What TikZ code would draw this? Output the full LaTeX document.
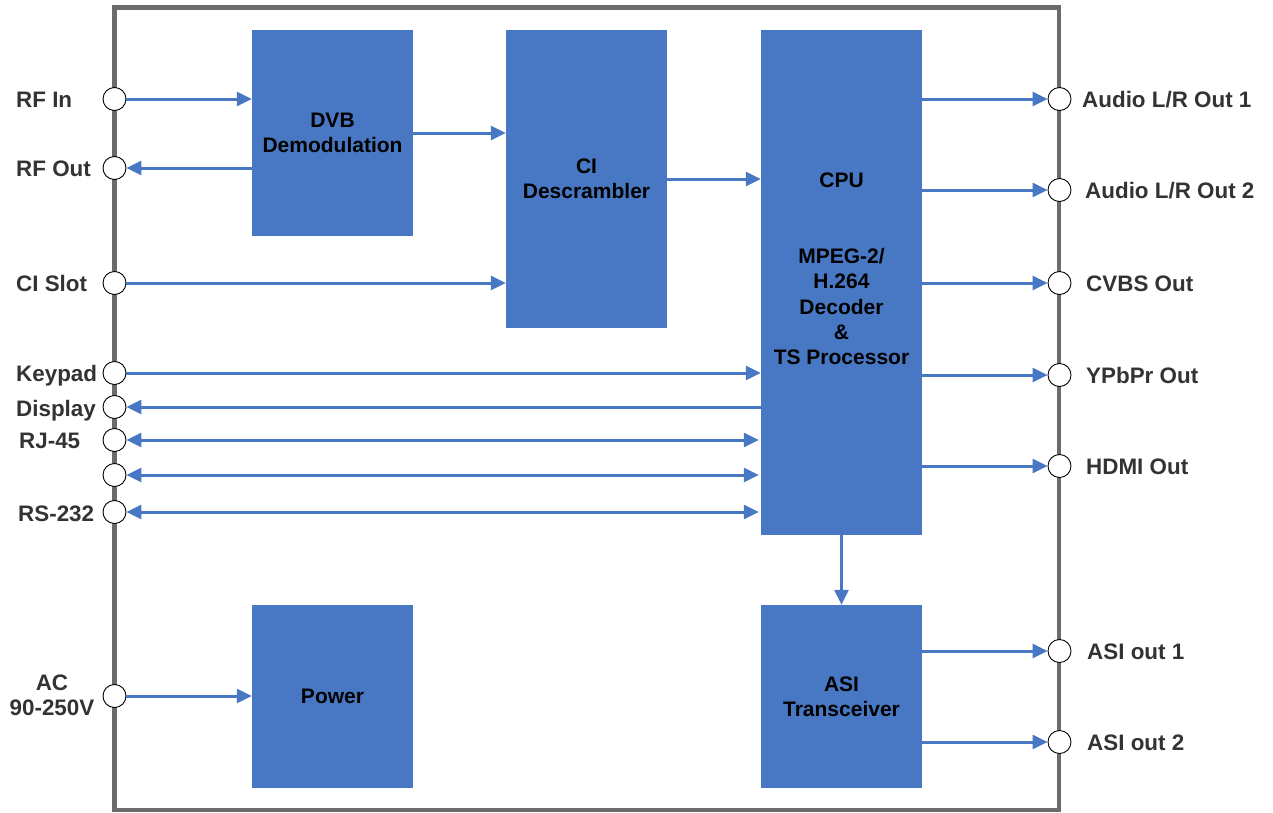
\documentclass[tikz,border=0pt]{standalone}
\usepackage{fontspec}
\setmainfont{Liberation Sans}
\usetikzlibrary{arrows.meta}
\definecolor{blk}{HTML}{4878C4}
\definecolor{frm}{HTML}{6B6B6B}
\definecolor{lbl}{HTML}{333333}
\begin{document}
\begin{tikzpicture}[x=1pt,y=-1pt,
  block/.style={fill=blk, draw=none, inner sep=0pt, minimum width=161pt,
    font=\bfseries\fontsize{21}{25.3}\selectfont, align=center, text=black},
  btext/.style={inner sep=0pt, font=\bfseries\fontsize{21}{25.3}\selectfont,
    align=center, text=black},
  port/.style={circle, draw=black, fill=white, line width=0.9pt,
    minimum size=23pt, inner sep=0pt},
  lab/.style={font=\bfseries\fontsize{22.4}{25}\selectfont, text=lbl,
    inner sep=0pt, text height=16pt, text depth=0pt},
  sig/.style={draw=blk, line width=3pt, -{Triangle[length=15pt,width=14pt]}},
  bisig/.style={draw=blk, line width=3pt,
    {Triangle[length=15pt,width=14pt]}-{Triangle[length=15pt,width=14pt]}}
]
\useasboundingbox (0,0) rectangle (1273,812);

% enclosure
\draw[frm, line width=4.5pt] (114.5,7.5) rectangle (1059,810);

% functional blocks
\node[block, minimum height=206pt] (dvb) at (332.5,133) {DVB\\Demodulation};
\node[block, minimum height=298pt] (ci)  at (586.5,179) {CI\\Descrambler};
\node[block, minimum height=505pt] (cpu) at (841.5,282.5) {};
\node[btext] (cputxt) at (841.5,269) {CPU\\[50.6pt]MPEG-2/\\H.264\\Decoder\\\&\\TS Processor};
\node[block, minimum height=183pt] (pow) at (332.5,696.5) {Power};
\node[block, minimum height=183pt] (asi) at (841.5,696.5) {ASI\\Transceiver};

% left ports
\node[port] (pRFin)  at (114.5,99)  {};
\node[port] (pRFout) at (114.5,168) {};
\node[port] (pCI)    at (114.5,283) {};
\node[port] (pKey)   at (114.5,373) {};
\node[port] (pDisp)  at (114.5,407) {};
\node[port] (pRJ)    at (114.5,440) {};
\node[port] (pX)     at (114.5,475) {};
\node[port] (pRS)    at (114.5,512) {};
\node[port] (pAC)    at (114.5,696) {};

% right ports
\node[port] (pA1)   at (1059.5,99)  {};
\node[port] (pA2)   at (1059.5,190) {};
\node[port] (pCVBS) at (1059.5,283) {};
\node[port] (pYPb)  at (1059.5,375) {};
\node[port] (pHDMI) at (1059.5,466) {};
\node[port] (pS1)   at (1059.5,651) {};
\node[port] (pS2)   at (1059.5,742) {};

% left labels
\node[lab, anchor=west] (lRFin)  at (16,99)  {RF In};
\node[lab, anchor=west] (lRFout) at (16,168) {RF Out};
\node[lab, anchor=west] (lCI)    at (16,283) {CI Slot};
\node[lab, anchor=west] (lKey)   at (16,373) {Keypad};
\node[lab, anchor=west] (lDisp)  at (16,408) {Display};
\node[lab, anchor=west] (lRJ)    at (19,440) {RJ-45};
\node[lab, anchor=west] (lRS)    at (18,513) {RS-232};
\node[font=\bfseries\fontsize{22.4}{25}\selectfont, text=lbl, inner sep=0pt,
  align=center] (lAC) at (52,695.5) {AC\\90-250V};

% right labels
\node[lab, anchor=west] (lA1)   at (1082,99)  {Audio L/R Out 1};
\node[lab, anchor=west] (lA2)   at (1085,190) {Audio L/R Out 2};
\node[lab, anchor=west] (lCVBS) at (1086,283) {CVBS Out};
\node[lab, anchor=west] (lYPb)  at (1086,375) {YPbPr Out};
\node[lab, anchor=west] (lHDMI) at (1086,466) {HDMI Out};
\node[lab, anchor=west] (lS1)   at (1087,651) {ASI out 1};
\node[lab, anchor=west] (lS2)   at (1087,742) {ASI out 2};

% signal paths
\draw[sig] (pRFin) -- (pRFin -| dvb.west);
\draw[sig] (pRFout -| dvb.west) -- (pRFout);
\draw[sig] (dvb.east) -- (dvb.east -| ci.west);
\draw[sig] (ci.east) -- (ci.east -| cpu.west);
\draw[sig] (pCI) -- (pCI -| ci.west);
\draw[sig] (pKey) -- (pKey -| cpu.west);
\draw[sig] (pDisp -| cpu.west) -- (pDisp);
\draw[bisig] (pRJ) -- ([xshift=-2pt]pRJ -| cpu.west);
\draw[bisig] (pX) -- ([xshift=-2pt]pX -| cpu.west);
\draw[bisig] (pRS) -- ([xshift=-2pt]pRS -| cpu.west);
\draw[sig] (pAC) -- (pAC -| pow.west);
\draw[sig] (cpu.south) -- (asi.north);
\draw[sig] (pA1 -| cpu.east) -- (pA1);
\draw[sig] (pA2 -| cpu.east) -- (pA2);
\draw[sig] (pCVBS -| cpu.east) -- (pCVBS);
\draw[sig] (pYPb -| cpu.east) -- (pYPb);
\draw[sig] (pHDMI -| cpu.east) -- (pHDMI);
\draw[sig] (pS1 -| asi.east) -- (pS1);
\draw[sig] (pS2 -| asi.east) -- (pS2);
\end{tikzpicture}
\end{document}
